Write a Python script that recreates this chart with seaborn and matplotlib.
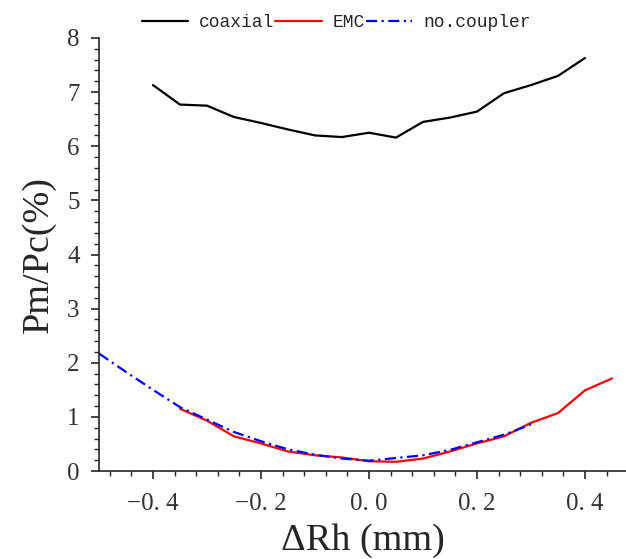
import numpy as np
import pandas as pd
import matplotlib.pyplot as plt
import seaborn as sns
from matplotlib.ticker import MultipleLocator

sns.set_style('ticks')
plt.rcParams['font.family'] = ['Liberation Serif', 'DejaVu Serif']

# coaxial coupler
x_coax = [-0.4, -0.35, -0.3, -0.25, -0.2, -0.15, -0.1, -0.05, 0.0,
          0.05, 0.1, 0.15, 0.2, 0.25, 0.3, 0.35, 0.4]
y_coax = [7.13, 6.77, 6.75, 6.54, 6.43, 6.31, 6.20, 6.17, 6.25,
          6.16, 6.45, 6.53, 6.64, 6.98, 7.13, 7.30, 7.63]

# EMC
x_emc = [-0.35, -0.3, -0.25, -0.2, -0.15, -0.1, -0.05, 0.0, 0.05,
         0.1, 0.15, 0.2, 0.25, 0.3, 0.35, 0.4, 0.45]
y_emc = [1.15, 0.93, 0.64, 0.51, 0.36, 0.29, 0.25, 0.18, 0.17,
         0.23, 0.36, 0.51, 0.64, 0.89, 1.07, 1.49, 1.71]

# no coupler
x_noc = [-0.5, -0.45, -0.4, -0.35, -0.3, -0.25, -0.2, -0.15, -0.1,
         -0.05, 0.0, 0.05, 0.1, 0.15, 0.2, 0.25, 0.3]
y_noc = [2.17, 1.83, 1.50, 1.18, 0.95, 0.72, 0.55, 0.40, 0.30,
         0.23, 0.19, 0.24, 0.29, 0.39, 0.53, 0.67, 0.86]

fig = plt.figure(figsize=(6.26, 5.59), dpi=100)
ax = fig.add_axes([99/626, 88/559, 527/626, 433/559])

sns.lineplot(x=x_coax, y=y_coax, color='black', lw=1.6, label='coaxial', ax=ax)
sns.lineplot(x=x_emc, y=y_emc, color='red', lw=1.6, label='EMC', ax=ax)
sns.lineplot(x=x_noc, y=y_noc, color='blue', lw=1.6, label='no.coupler', ax=ax)
ax.lines[2].set_linestyle((0, (5, 2, 1, 2)))

ax.set_xlim(-0.5, 0.476)
ax.set_ylim(0, 8)
ax.xaxis.set_major_locator(MultipleLocator(0.2))
ax.xaxis.set_minor_locator(MultipleLocator(0.04))
ax.yaxis.set_major_locator(MultipleLocator(1))
ax.yaxis.set_minor_locator(MultipleLocator(0.2))
ax.xaxis.set_major_formatter(plt.FuncFormatter(lambda v, p: f'{v:.1f}'.replace('-', '\u2212').replace('.', '. ')))

ax.tick_params(which='major', direction='out', length=6, width=1.2, labelsize=18,
               labelcolor='#333333')
ax.tick_params(axis='x', which='major', pad=10)
ax.tick_params(axis='y', which='major', pad=8)
ax.tick_params(which='minor', direction='out', length=3.5, width=1.0)
sns.despine(ax=ax)
for s in ['left', 'bottom']:
    ax.spines[s].set_linewidth(1.2)

ax.set_xlabel('\u0394Rh (mm)', fontsize=27.5, labelpad=6)
ax.set_ylabel('Pm/Pc(%)', fontsize=27.5, labelpad=8)

ax.legend(loc='center', bbox_to_anchor=(0.537, 0.96), bbox_transform=fig.transFigure,
          ncol=3, frameon=False, prop={'family': 'Liberation Mono', 'size': 13},
          handlelength=2.55, handletextpad=0.6, columnspacing=0.1)

fig.savefig('out.png', dpi=100)
